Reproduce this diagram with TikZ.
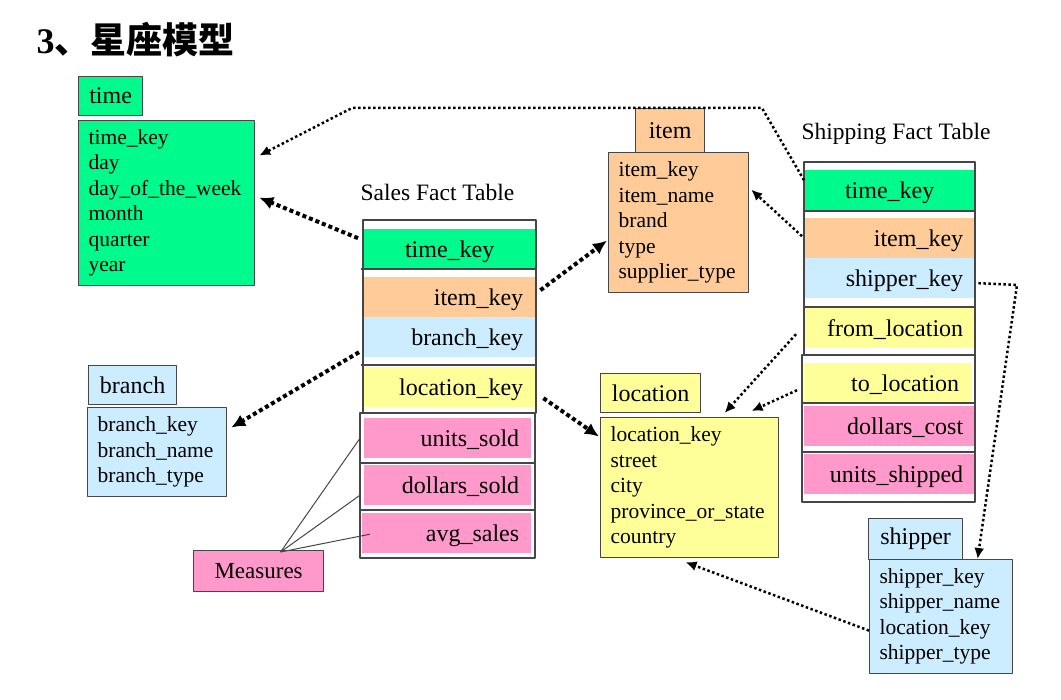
\documentclass[tikz,border=0pt]{standalone}
\usepackage{fontspec}
\setmainfont{Liberation Serif}
\newfontfamily\cjk{Noto Sans CJK SC}
\usetikzlibrary{arrows.meta}
\definecolor{kgreen}{RGB}{0,250,140}
\definecolor{korange}{RGB}{255,204,153}
\definecolor{kblue}{RGB}{204,236,255}
\definecolor{kyellow}{RGB}{255,255,153}
\definecolor{kpink}{RGB}{255,153,204}
\definecolor{kline}{RGB}{70,70,70}
\begin{document}
\begin{tikzpicture}[x=1pt,y=-1pt,line join=round,
	tabhead/.style={draw=kline,line width=1.2pt,anchor=north west,inner sep=0pt,minimum height=39pt,font=\fontsize{24}{28}\selectfont},
	tabbody/.style={draw=kline,line width=1.2pt,anchor=north west,inner xsep=10pt,inner ysep=0pt,align=left,font=\fontsize{21.5}{25.5}\selectfont},
	factrow/.style={anchor=north west,inner sep=0pt,inner xsep=12pt,minimum height=40pt,text height=17pt,text depth=1pt,text width=147pt,align=right,font=\fontsize{24}{28}\selectfont},
	bigdots/.style={line width=4pt,dash pattern=on 4pt off 3pt,-{Latex[length=14pt,width=13pt]}},
	smalldots/.style={line width=2.5pt,dash pattern=on 2.5pt off 2.5pt,-{Latex[length=11pt,width=10pt]}},
	measline/.style={kline,line width=1pt}]
	\useasboundingbox (0,0) rectangle (1061,700);
	\node[anchor=west,font=\fontsize{36}{40}\selectfont] (title) at (33,40) {\textbf{3}{\cjk\bfseries 、星座模型}};
	% dimension tables
	\node[tabhead,fill=kgreen,minimum width=64pt] (time-h) at (78,76) {time};
	\node[tabbody,fill=kgreen,text width=156pt,minimum height=165pt] (time) at (78,120) {time\_key\\day\\day\_of\_the\_week\\month\\quarter\\year};
	\node[tabhead,fill=korange,minimum width=69pt,minimum height=44pt] (item-h) at (635,108) {item};
	\node[tabbody,fill=korange,text width=120pt,minimum height=140pt] (item) at (608,152) {item\_key\\item\_name\\brand\\type\\supplier\_type};
	\node[tabhead,fill=kblue,minimum width=88pt] (branch-h) at (88,365) {branch};
	\node[tabbody,fill=kblue,text width=119pt,minimum height=89pt] (branch) at (87,407) {branch\_key\\branch\_name\\branch\_type};
	\node[tabhead,fill=kyellow,minimum width=100pt] (loc-h) at (600,373) {location};
	\node[tabbody,fill=kyellow,text width=158pt,minimum height=140pt] (loc) at (600,417) {location\_key\\street\\city\\province\_or\_state\\country};
	\node[tabhead,fill=kblue,minimum width=94pt,minimum height=41pt] (ship-h) at (868,518) {shipper};
	\node[tabbody,fill=kblue,text width=123pt,minimum height=114pt] (ship) at (869,559) {shipper\_key\\shipper\_name\\location\_key\\shipper\_type};
	% sales fact table
	\node[font=\fontsize{23.5}{28}\selectfont] (sales-t) at (437.5,192) {Sales Fact Table};
	\node[factrow,fill=kgreen,align=center] (s-time) at (364,229) {time\_key};
	\node[factrow,fill=korange] (s-item) at (364,277) {item\_key};
	\node[factrow,fill=kblue] (s-branch) at (364,317) {branch\_key};
	\node[factrow,fill=kyellow] (s-loc) at (364,367) {location\_key};
	\node[factrow,fill=kpink,text width=143pt] (s-units) at (364,418) {units\_sold};
	\node[factrow,fill=kpink,text width=143pt] (s-dollars) at (364,465) {dollars\_sold};
	\node[factrow,fill=kpink,text width=145pt] (s-avg) at (362,513) {avg\_sales};
	\draw[kline,line width=1.2pt] (363,220) rectangle (536,413) (360,413) rectangle (535,558);
	\foreach \y in {269,365,463,510} \draw[kline,line width=1.2pt] (361,\y) -- (536,\y);
	% shipping fact table
	\node[font=\fontsize{23.5}{28}\selectfont] (ship-t) at (896,134) {Shipping Fact Table};
	\node[factrow,fill=kgreen,align=center] (f-time) at (804,170) {time\_key};
	\node[factrow,fill=korange] (f-item) at (804,218) {item\_key};
	\node[factrow,fill=kblue] (f-shipper) at (804,258) {shipper\_key};
	\node[factrow,fill=kyellow] (f-from) at (804,308) {from\_location};
	\node[factrow,fill=kyellow,text width=143pt] (f-to) at (804,363) {to\_location};
	\node[factrow,fill=kpink] (f-cost) at (804,406) {dollars\_cost};
	\node[factrow,fill=kpink] (f-units) at (804,454) {units\_shipped};
	\draw[kline,line width=1.2pt] (804,162) rectangle (975,355) (802,355) rectangle (975,502);
	\foreach \y in {211,307,403,452} \draw[kline,line width=1.2pt] (803,\y) -- (975,\y);
	\node[draw=kline,fill=kpink,line width=1.2pt,anchor=north west,minimum width=130pt,minimum height=41pt,font=\fontsize{23}{27}\selectfont] (meas) at (193,550) {Measures};
	% keys
	\draw[bigdots] ([xshift=-6pt,yshift=11pt]s-time.west) -- ([xshift=4pt,yshift=5.5pt]time.east);
	\draw[smalldots] ([yshift=10pt]f-time.west) -- (762,108) -- (352,108) -- ([xshift=4pt,yshift=47.5pt]time.east);
	\draw[bigdots] ([xshift=5pt,yshift=7pt]s-item.east) -- ([xshift=-1pt,yshift=-18pt]item.west);
	\draw[smalldots] ([xshift=-2pt,yshift=2pt]f-item.west) -- ([xshift=2pt,yshift=33pt]item.east);
	\draw[bigdots] ([xshift=-5pt,yshift=-15pt]s-branch.west) -- ([xshift=4pt,yshift=24.5pt]branch.east);
	\draw[bigdots] ([xshift=8pt,yshift=-11pt]s-loc.east) -- ([xshift=-1pt,yshift=51pt]loc.west);
	\draw[smalldots] ([xshift=-8pt,yshift=-6pt]f-from.west) -- ([xshift=35pt,yshift=4pt]loc.north);
	\draw[smalldots] ([xshift=-7pt,yshift=-7pt]f-to.west) -- ([xshift=62pt,yshift=6pt]loc.north);
	\draw[smalldots] ([xshift=3pt,yshift=-5pt]f-shipper.east) -- (1017,285) -- ([xshift=36.5pt]ship.north);
	\draw[smalldots] ([yshift=-14pt]ship.west) -- ([xshift=-4pt,yshift=-4pt]loc.south);
	% measures
	\draw[measline] ([xshift=22pt,yshift=-2pt]meas.north) -- ([xshift=-4pt]s-units.west);
	\draw[measline] ([xshift=22pt,yshift=-2pt]meas.north) -- ([xshift=-4pt,yshift=-10pt]s-dollars.west);
	\draw[measline] ([xshift=22pt,yshift=-2pt]meas.north) -- ([xshift=8pt,yshift=-1pt]s-avg.west);
\end{tikzpicture}
\end{document}
